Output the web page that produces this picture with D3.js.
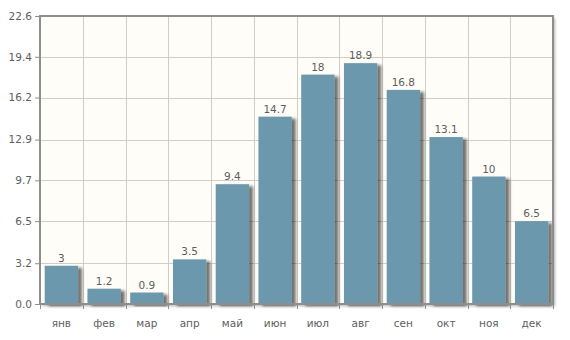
<!DOCTYPE html>
<html>
<head>
<meta charset="utf-8">
<script src="https://cdn.jsdelivr.net/npm/d3@7"></script>
<style>
  html, body { margin: 0; padding: 0; background: #fff; }
  svg { display: block; }
</style>
</head>
<body>
<svg id="chart" width="570" height="340"></svg>
<script>
// Monthly values
const months = ["янв", "фев", "мар", "апр", "май", "июн", "июл", "авг", "сен", "окт", "ноя", "дек"];
const values = [3, 1.2, 0.9, 3.5, 9.4, 14.7, 18, 18.9, 16.8, 13.1, 10, 6.5];
const yTicks = [0, 3.2, 6.5, 9.7, 12.9, 16.2, 19.4, 22.6];
const yMax = 22.6;

const svg = d3.select("#chart");
const margin = { top: 16, right: 17, bottom: 36, left: 40 };
const W = 570, H = 340;
const iw = W - margin.left - margin.right;
const ih = H - margin.top - margin.bottom;

const defs = svg.append("defs");
const sh = defs.append("filter").attr("id", "barShadow")
  .attr("x", "-20%").attr("y", "-20%").attr("width", "160%").attr("height", "140%");
sh.append("feGaussianBlur").attr("in", "SourceAlpha").attr("stdDeviation", 1.5).attr("result", "b");
sh.append("feOffset").attr("in", "b").attr("dx", 4).attr("dy", 2).attr("result", "o");
sh.append("feComponentTransfer").attr("in", "o").attr("result", "s")
  .append("feFuncA").attr("type", "linear").attr("slope", 0.55);
const m1 = sh.append("feMerge");
m1.append("feMergeNode").attr("in", "s");
m1.append("feMergeNode").attr("in", "SourceGraphic");

const fs = defs.append("filter").attr("id", "frameShadow")
  .attr("x", "-5%").attr("y", "-5%").attr("width", "110%").attr("height", "110%");
fs.append("feGaussianBlur").attr("in", "SourceAlpha").attr("stdDeviation", 1.5).attr("result", "b");
fs.append("feOffset").attr("in", "b").attr("dx", 2).attr("dy", 2).attr("result", "o");
fs.append("feComponentTransfer").attr("in", "o").attr("result", "s")
  .append("feFuncA").attr("type", "linear").attr("slope", 0.3);
const m2 = fs.append("feMerge");
m2.append("feMergeNode").attr("in", "s");
m2.append("feMergeNode").attr("in", "SourceGraphic");

const g = svg.append("g").attr("transform", `translate(${margin.left},${margin.top})`);

const x = d3.scaleBand().domain(months).range([0, iw]).paddingInner(0.22).paddingOuter(0.11);
const xb = d3.scaleBand().domain(months).range([0, iw]);
const y = d3.scaleLinear().domain([0, yMax]).range([ih, 0]);

// plot background with a soft shadow
g.append("rect").attr("width", iw).attr("height", ih)
  .attr("fill", "#fffdf7").attr("filter", "url(#frameShadow)");

// grid
g.append("g").selectAll("line.h").data(yTicks).join("line")
  .attr("x1", 0).attr("x2", iw)
  .attr("y1", d => Math.round(y(d)) + 0.5).attr("y2", d => Math.round(y(d)) + 0.5)
  .attr("stroke", "#d0cdc6").attr("stroke-width", 1);
g.append("g").selectAll("line.v").data(months.slice(1)).join("line")
  .attr("y1", 0).attr("y2", ih)
  .attr("x1", d => Math.round(xb(d)) + 0.5).attr("x2", d => Math.round(xb(d)) + 0.5)
  .attr("stroke", "#d0cdc6").attr("stroke-width", 1);

// bars
g.append("g").selectAll("rect").data(values).join("rect")
  .attr("x", (d, i) => x(months[i]))
  .attr("width", x.bandwidth())
  .attr("y", d => y(d))
  .attr("height", d => ih - y(d))
  .attr("fill", "#6c98ae")
  .attr("filter", "url(#barShadow)");

// value labels
g.append("g").selectAll("text").data(values).join("text")
  .attr("x", (d, i) => x(months[i]) + x.bandwidth() / 2)
  .attr("y", d => y(d) - 4)
  .attr("text-anchor", "middle")
  .attr("font-family", "DejaVu Sans, Verdana, sans-serif")
  .attr("font-size", 10.5)
  .attr("fill", "#5e5e5e")
  .text(d => d);

// frame
g.append("rect").attr("x", 0).attr("y", 0).attr("width", iw).attr("height", ih)
  .attr("fill", "none").attr("stroke", "#8e8e8e").attr("stroke-width", 2);

// y axis
const yAxis = d3.axisLeft(y).tickValues(yTicks).tickSize(5).tickPadding(3)
  .tickFormat(d3.format(".1f"));
const ya = g.append("g").call(yAxis);
ya.select(".domain").remove();
ya.selectAll("line").attr("stroke", "#8e8e8e");
ya.selectAll("text").attr("font-family", "DejaVu Sans, Verdana, sans-serif")
  .attr("font-size", 10.5).attr("fill", "#5e5e5e");

// x axis: ticks on category boundaries, labels centered
const xa = g.append("g").attr("transform", `translate(0,${ih})`);
xa.selectAll("line").data(d3.range(months.length + 1)).join("line")
  .attr("x1", i => Math.round(i * xb.step()) + 0.5).attr("x2", i => Math.round(i * xb.step()) + 0.5)
  .attr("y1", 0).attr("y2", 5).attr("stroke", "#8e8e8e");
xa.selectAll("text").data(months).join("text")
  .attr("x", d => xb(d) + xb.bandwidth() / 2)
  .attr("y", 23)
  .attr("text-anchor", "middle")
  .attr("font-family", "DejaVu Sans, Verdana, sans-serif")
  .attr("font-size", 10.5)
  .attr("fill", "#5e5e5e")
  .text(d => d);
</script>
</body>
</html>
